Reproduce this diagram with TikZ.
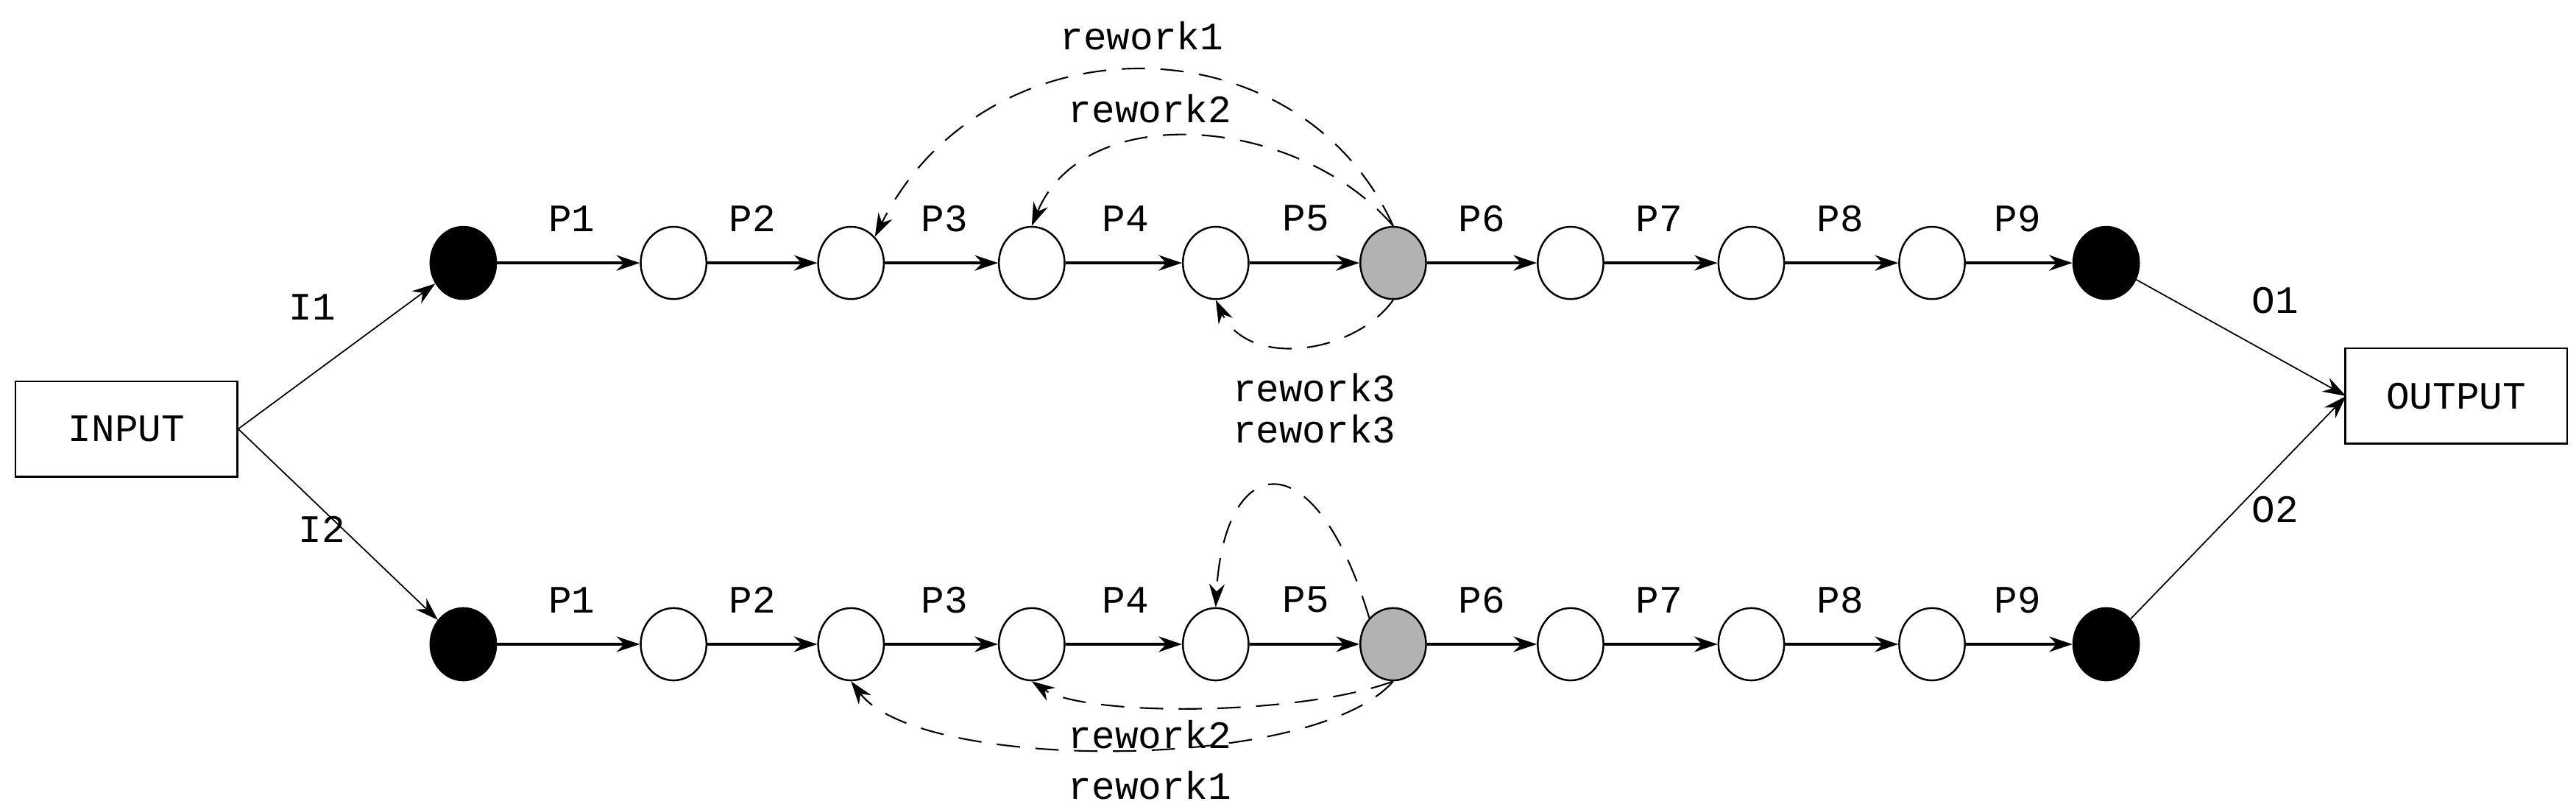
\documentclass[tikz,border=0pt]{standalone}
\usepackage{fontspec}
\setmainfont{Liberation Mono}
\usetikzlibrary{shapes.geometric,arrows.meta}
\begin{document}
\begin{tikzpicture}[x=0.02232cm,y=-0.02232cm,
  pl/.style={ellipse,draw,line width=0.7pt,minimum width=40*0.02232cm,minimum height=44*0.02232cm,inner sep=0pt},
  blk/.style={pl,fill=black},
  gry/.style={pl,fill=gray!60},
  box/.style={draw,line width=0.7pt,minimum width=135*0.02232cm,minimum height=58*0.02232cm,font=\fontsize{15}{18}\selectfont},
  arr/.style={-{Stealth[length=9pt,width=6pt]},line width=1pt},
  thin/.style={-{Stealth[length=9pt,width=6pt]},line width=0.5pt},
  rw/.style={-{Stealth[length=9pt,width=6pt]},line width=0.6pt,dash pattern=on 9pt off 6pt},
  lb/.style={font=\fontsize{15}{18}\selectfont}]
\useasboundingbox (0,0) rectangle (1568,489);
\node[box] (in) at (77,261) {INPUT};
\node[box] (out) at (1495,241) {OUTPUT};
\foreach \r/\y in {a/160,b/392}{
  \node[blk] (\r0) at (282,\y) {};
  \node[pl] (\r1) at (410,\y) {};
  \node[pl] (\r2) at (518,\y) {};
  \node[pl] (\r3) at (628,\y) {};
  \node[pl] (\r4) at (740,\y) {};
  \node[gry] (\r5) at (848,\y) {};
  \node[pl] (\r6) at (956,\y) {};
  \node[pl] (\r7) at (1066,\y) {};
  \node[pl] (\r8) at (1176,\y) {};
  \node[blk] (\r9) at (1282,\y) {};
  \foreach \i/\j/\lx in {0/1/348,1/2/458,2/3/575,3/4/685,4/5/795,5/6/902,6/7/1010,7/8/1120,8/9/1228}{
    \draw[arr] (\r\i) -- (\r\j);
    \node[lb] at (\lx,\y-27) {P\j};
  }
}
\coordinate (inR) at (145,261);
\coordinate (outL) at (1428,241);
\draw[thin] (inR) -- (a0);
\draw[thin] (inR) -- (b0);
\draw[thin] (a9) -- (outL);
\draw[thin] (b9) -- (outL);
\node[lb] at (190,187) {I1};
\node[lb] at (196,322) {I2};
\node[lb] at (1385,183) {O1};
\node[lb] at (1385,310) {O2};
% top reworks
\draw[rw] (a5.north) .. controls (790,10) and (600,10) .. (a2.north east);
\draw[rw] (a5.north) .. controls (790,70) and (660,60) .. (a3.north);
\draw[rw] (a5.south) .. controls (825,215) and (760,225) .. (a4.south);
\node[lb] at (695,22) {rework1};
\node[lb] at (700,66) {rework2};
\node[lb] at (800,236) {rework3};
% bottom reworks
\node[lb] at (800,261) {rework3};
\draw[rw] (b5.north west) .. controls (800,265) and (745,275) .. (b4.north);
\draw[rw] (b5.south) .. controls (790,436) and (660,436) .. (b3.south);
\draw[rw] (b5.south) .. controls (800,470) and (560,470) .. (b2.south);
\node[lb] at (700,447) {rework2};
\node[lb] at (700,478) {rework1};
\end{tikzpicture}
\end{document}
